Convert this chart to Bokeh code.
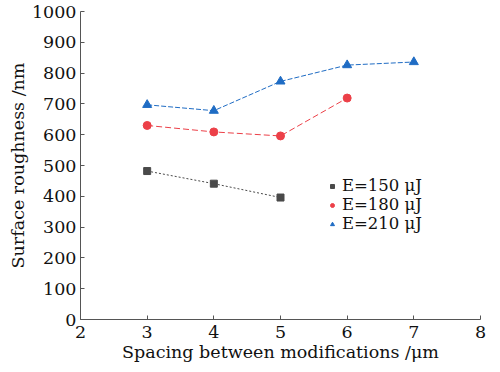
from bokeh.plotting import figure
from bokeh.models import Range1d, FixedTicker, Legend, LegendItem
from bokeh.embed import file_html
from bokeh.resources import INLINE

x150 = [3, 4, 5]
y150 = [482, 441, 396]
x180 = [3, 4, 5, 6]
y180 = [630, 609, 596, 719]
x210 = [3, 4, 5, 6, 7]
y210 = [697, 678, 773, 826, 836]
labels = ["E=150 μJ", "E=180 μJ", "E=210 μJ"]
xticks = [2, 3, 4, 5, 6, 7, 8]
yticks = [0, 100, 200, 300, 400, 500, 600, 700, 800, 900, 1000]

FONT = "DejaVu Serif"

p = figure(width=490, height=364, output_backend="svg", toolbar_location=None,
           x_range=Range1d(2, 8), y_range=Range1d(0, 1000),
           min_border_left=80, min_border_right=10, min_border_top=11, min_border_bottom=43)
p.outline_line_color = None
p.xgrid.visible = False
p.ygrid.visible = False

for ax in (p.xaxis[0], p.yaxis[0]):
    ax.major_label_text_font = FONT
    ax.major_label_text_font_size = "17.5px"
    ax.major_label_text_color = "#111111"
    ax.axis_label_text_font = FONT
    ax.axis_label_text_font_size = "17.5px"
    ax.axis_label_text_font_style = "normal"
    ax.axis_label_text_color = "#111111"
    ax.axis_line_color = "#555555"
    ax.major_tick_line_color = "#555555"
    ax.major_tick_in = 4
    ax.major_tick_out = 0
    ax.minor_tick_line_color = None

p.xaxis.ticker = FixedTicker(ticks=xticks)
p.yaxis.ticker = FixedTicker(ticks=yticks)
p.xaxis.axis_label = "Spacing between modifications /μm"
p.yaxis.axis_label = "Surface roughness /nm"
p.xaxis.major_label_standoff = 6
p.xaxis.axis_label_standoff = 1
p.yaxis.major_label_standoff = 4
p.yaxis.axis_label_standoff = 1

c150 = "#4a4a4a"
c180 = "#ec4048"
c210 = "#1f6cc4"

p.line(x150, y150, line_color=c150, line_width=1, line_dash="2 2")
r1 = p.scatter(x150, y150, marker="square", size=7, fill_color=c150, line_color=c150)
p.line(x180, y180, line_color=c180, line_width=1, line_dash="6 3")
r2 = p.scatter(x180, y180, marker="circle", size=8, fill_color=c180, line_color=c180)
p.line(x210, y210, line_color=c210, line_width=1, line_dash="5 2")
r3 = p.scatter(x210, y210, marker="triangle", size=9, fill_color=c210, line_color=c210)

legend = Legend(items=[LegendItem(label=labels[0], renderers=[r1]),
                       LegendItem(label=labels[1], renderers=[r2]),
                       LegendItem(label=labels[2], renderers=[r3])],
                location=(247, 86))
legend.background_fill_alpha = 0
legend.border_line_color = None
legend.label_text_font = FONT
legend.label_text_font_size = "16.5px"
legend.label_text_color = "#111111"
legend.glyph_width = 10
legend.glyph_height = 16
legend.label_standoff = 5
legend.spacing = -1
legend.label_height = 16
legend.padding = 0
legend.margin = 0
p.add_layout(legend)

open("out.html", "w").write(file_html(p, INLINE))
